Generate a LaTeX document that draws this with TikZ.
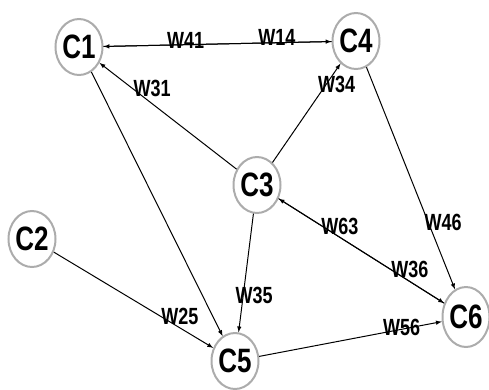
\documentclass[tikz,border=0pt]{standalone}
\usepackage{fontspec}
\setmainfont{Liberation Sans}
\usepackage{graphicx}
\usetikzlibrary{positioning}
\usetikzlibrary{arrows, shapes}

\newcommand{\tallfont}[1]{\scalebox{1}[1.3]{#1}}

\begin{document}
\begin{tikzpicture}[x=1pt,y=-1pt]

\tikzset{concept/.style={
		ellipse,
		draw=gray!65,
		line width=2pt,
		minimum width=46pt,
		minimum height=56pt,
		inner sep=0pt,
		font=\fontsize{26}{26}\selectfont\bfseries
	},
	weight/.style={
		font=\fontsize{18}{18}\selectfont\bfseries,
		inner sep=0pt
	},
	link/.style={-latex, line width=1pt}
}
\useasboundingbox (0,0) rectangle (489,389);

% concepts
\node[concept] (C1) at (79,47)   {\tallfont{C1}};
\node[concept] (C2) at (32,239)  {\tallfont{C2}};
\node[concept] (C3) at (257,185) {\tallfont{C3}};
\node[concept] (C4) at (356,41)  {\tallfont{C4}};
\node[concept] (C5) at (235,361) {\tallfont{C5}};
\node[concept, minimum height=60pt] (C6) at (466,317) {\tallfont{C6}};

% weights
\draw[link] (C4) -- node[weight, pos=0.64, yshift=4pt] {\tallfont{W41}} (C1);
\draw[link] (C1) -- node[weight, pos=0.76, yshift=5pt] {\tallfont{W14}} (C4);
\draw[link] (C3) -- node[weight, pos=0.67, xshift=7.5pt, yshift=9.5pt] {\tallfont{W31}} (C1);
\draw[link] (C3) -- node[weight, pos=0.84, xshift=7pt, yshift=-5pt] {\tallfont{W34}} (C4);
\draw[link] (C1) -- (C5);
\draw[link] (C3) -- node[weight, pos=0.69, xshift=11pt] {\tallfont{W35}} (C5);
\draw[link] (C2) -- node[weight, pos=0.76, xshift=5pt, yshift=8.5pt] {\tallfont{W25}} (C5);
\draw[link] (C4) -- node[weight, pos=0.72, xshift=13pt, yshift=5pt] {\tallfont{W46}} (C6);
\draw[link] (C6) -- node[weight, pos=0.66, xshift=5pt, yshift=8pt] {\tallfont{W63}} (C3);
\draw[link] (C3) -- node[weight, pos=0.76, xshift=5.5pt, yshift=8.5pt] {\tallfont{W36}} (C6);
\draw[link] (C5) -- node[weight, pos=0.78, yshift=1.5pt] {\tallfont{W56}} (C6);

\end{tikzpicture}
\end{document}
